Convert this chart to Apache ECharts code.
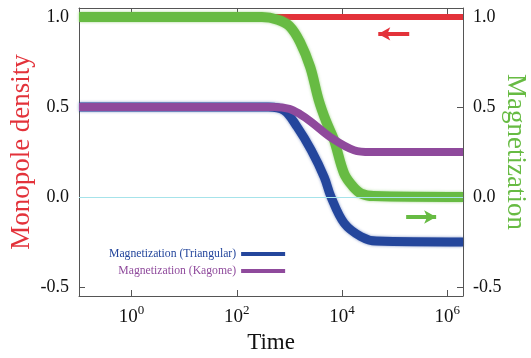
<!DOCTYPE html>
<html>
<head>
<meta charset="utf-8">
<script src="https://cdn.jsdelivr.net/npm/echarts@6/dist/echarts.min.js"></script>
<style>
  html, body { margin: 0; padding: 0; background: #fff; }
  #chart { width: 531px; height: 358px; }
</style>
</head>
<body>
<div id="chart"></div>
<script>
// values (time is on a log scale)
var redTime = [0.1, 2000000];
var redDensity = [1.0, 1.0];

var greenTime = [0.1, 300, 600, 1000, 1600, 2500, 3600, 5000, 7000, 11000, 16000, 23000, 40000, 2000000];
var greenMag = [1.0, 1.0, 0.985, 0.95, 0.86, 0.72, 0.54, 0.42, 0.32, 0.13, 0.06, 0.02, 0.005, 0.0];

var triTime = [0.1, 400, 800, 1400, 2600, 4600, 6200, 11000, 23000, 45000, 2000000];
var triMag = [0.5, 0.5, 0.48, 0.39, 0.26, 0.11, 0.0, -0.145, -0.22, -0.245, -0.25];

var kagTime = [0.1, 500, 1000, 1600, 2600, 6200, 17000, 35000, 2000000];
var kagMag = [0.5, 0.5, 0.49, 0.46, 0.417, 0.33, 0.26, 0.25, 0.25];

// tick positions
var timeTicks = [1, 100, 10000, 1000000];
var valueTicks = [-0.5, 0, 0.5, 1.0];

// arrow annotations [time, value]
var redArrow = [[49000, 0.906], [190000, 0.906]];
var greenArrow = [[166000, -0.111], [617000, -0.111]];

var legendNames = ['Magnetization (Triangular)', 'Magnetization (Kagome)'];

var RED = '#e3323a', GREEN = '#67bb43', BLUE = '#24469c', PURPLE = '#8f4a9c';
var FONT = '"Liberation Serif", "DejaVu Serif", serif';

function pairs(xs, ys) {
  var out = [];
  for (var i = 0; i < xs.length; i++) out.push([xs[i], ys[i]]);
  return out;
}

var myChart = echarts.init(document.getElementById('chart'));

var xCommon = {
  type: 'log',
  logBase: 10,
  min: 0.1,
  max: 2000000,
  axisLine: { show: true, onZero: false, lineStyle: { color: '#555', width: 1 } },
  axisTick: { show: true, inside: true, length: 6, customValues: timeTicks, lineStyle: { color: '#555' } },
  splitLine: { show: false },
  minorTick: { show: false }
};
var yCommon = {
  type: 'value',
  min: -0.55,
  max: 1.05,
  axisLine: { show: true, onZero: false, lineStyle: { color: '#555', width: 1 } },
  axisTick: { show: true, inside: true, length: 6, customValues: valueTicks, lineStyle: { color: '#555' } },
  splitLine: { show: false },
  axisLabel: {
    show: true,
    customValues: valueTicks,
    margin: 10,
    color: '#111',
    fontFamily: FONT,
    fontSize: 18,
    formatter: function (v) { return v.toFixed(1); }
  }
};

var option = {
  animation: false,
  grid: { left: 79, right: 68, top: 8, bottom: 62, outerBoundsMode: 'none', containLabel: false },
  legend: {
    data: [
      { name: legendNames[0], textStyle: { color: BLUE } },
      { name: legendNames[1], textStyle: { color: PURPLE } }
    ],
    orient: 'vertical',
    align: 'right',
    left: 104,
    top: 243,
    itemWidth: 44,
    itemHeight: 4,
    itemGap: 5,
    icon: 'rect',
    textStyle: { fontFamily: FONT, fontSize: 11.7 }
  },
  xAxis: [
    echarts.util.merge({
      position: 'bottom',
      name: 'Time',
      nameLocation: 'middle',
      nameGap: 35,
      nameTextStyle: { fontFamily: FONT, fontSize: 23, color: '#111' },
      axisLabel: {
        customValues: timeTicks,
        margin: 8,
        formatter: function (v) {
          var e = Math.round(Math.log(v) / Math.LN10);
          return '{b|10}{s|' + e + '}';
        },
        rich: {
          b: { fontFamily: FONT, fontSize: 19, color: '#111', verticalAlign: 'bottom' },
          s: { fontFamily: FONT, fontSize: 13, color: '#111', verticalAlign: 'top', padding: [0, 0, 10, 0] }
        }
      }
    }, xCommon, true),
    echarts.util.merge({
      position: 'top',
      axisLabel: { show: false }
    }, xCommon, true)
  ],
  yAxis: [
    echarts.util.merge({
      position: 'left',
      name: 'Monopole density',
      nameLocation: 'middle',
      nameGap: 44,
      nameMoveOverlap: false,
      nameRotate: 90,
      nameTextStyle: { fontFamily: FONT, fontSize: 27, color: RED }
    }, yCommon, true),
    echarts.util.merge({
      position: 'right',
      name: 'Magnetization',
      nameLocation: 'middle',
      nameGap: 39,
      nameMoveOverlap: false,
      nameRotate: -90,
      nameTextStyle: { fontFamily: FONT, fontSize: 27, color: GREEN }
    }, yCommon, true)
  ],
  series: [
    {
      name: 'Monopole density',
      type: 'line',
      xAxisIndex: 0,
      yAxisIndex: 0,
      data: pairs(redTime, redDensity),
      showSymbol: false,
      lineStyle: { color: RED, width: 6 },
      itemStyle: { color: RED },
      z: 2,
      markLine: {
        silent: true,
        symbol: ['none', 'none'],
        label: { show: false },
        lineStyle: { color: '#a6e3ea', width: 1, type: 'solid' },
        data: [
          { yAxis: 0 },
          [
            { coord: redArrow[0], symbol: 'arrow', symbolSize: [10, 12], lineStyle: { color: RED, width: 4 } },
            { coord: redArrow[1], symbol: 'none', lineStyle: { color: RED, width: 4 } }
          ]
        ]
      }
    },
    {
      name: 'Magnetization',
      type: 'line',
      xAxisIndex: 0,
      yAxisIndex: 1,
      data: pairs(greenTime, greenMag),
      showSymbol: false,
      smooth: 0.35,
      lineStyle: { color: GREEN, width: 10, shadowColor: 'rgba(103,187,67,0.6)', shadowBlur: 3 },
      itemStyle: { color: GREEN },
      z: 3,
      markLine: {
        silent: true,
        label: { show: false },
        lineStyle: { color: GREEN, width: 4, type: 'solid' },
        data: [
          [
            { coord: greenArrow[0], symbol: 'none' },
            { coord: greenArrow[1], symbol: 'arrow', symbolSize: [10, 12] }
          ]
        ]
      }
    },
    {
      name: legendNames[0],
      type: 'line',
      xAxisIndex: 0,
      yAxisIndex: 1,
      data: pairs(triTime, triMag),
      showSymbol: false,
      smooth: 0.35,
      lineStyle: { color: BLUE, width: 9, shadowColor: 'rgba(36,70,156,0.6)', shadowBlur: 3 },
      itemStyle: { color: BLUE },
      z: 4
    },
    {
      name: legendNames[1],
      type: 'line',
      xAxisIndex: 0,
      yAxisIndex: 1,
      data: pairs(kagTime, kagMag),
      showSymbol: false,
      smooth: 0.35,
      lineStyle: { color: PURPLE, width: 8 },
      itemStyle: { color: PURPLE },
      z: 5
    }
  ]
};
myChart.setOption(option);
</script>
</body>
</html>
